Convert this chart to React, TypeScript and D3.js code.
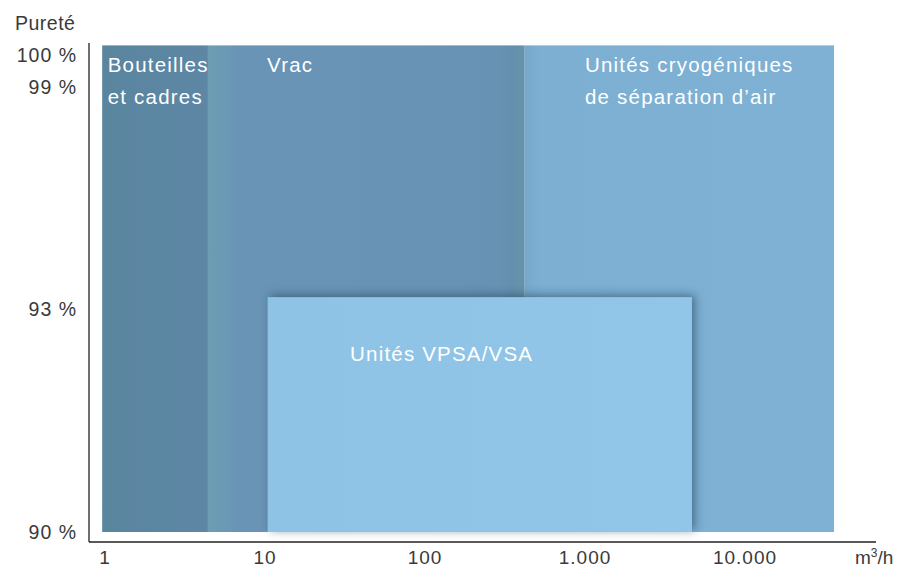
import React, { useEffect, useRef } from 'react';
import * as d3 from 'd3';

// regions (flow in m3/h, purity in %)
const regionNames = ['Bouteilles et cadres', 'Vrac', 'Unités cryogéniques de séparation d’air', 'Unités VPSA/VSA'];
const regionLines = [['Bouteilles', 'et cadres'], ['Vrac'], ['Unités cryogéniques', 'de séparation d’air'], ['Unités VPSA/VSA']];
const flowMin = [0.96, 4.4, 420, 10.4];
const flowMax = [4.4, 420, 36000, 4660];
const purityMin = [90, 90, 90, 90];
const purityMax = [100.3, 100.3, 100.3, 93.32];
const labelFlow = [1.04, 10.3, 1000, 34];
const labelPurity = [99.7, 99.7, 99.7, 92.4];

const xTicks = [1, 10, 100, 1000, 10000];
const xTickLabels = ['1', '10', '100', '1.000', '10.000'];
const yTicks = [90, 93, 99, 100];
const yTickLabels = ['90 %', '93 %', '99 %', '100 %'];

export default function App() {
    const ref = useRef<SVGSVGElement | null>(null);

    useEffect(() => {
        if (!ref.current) return;
        const svg = d3.select(ref.current);
        svg.selectAll('*').remove();

        const x = d3.scaleLog().domain([1, 10000]).range([105, 745]);
        // purity axis is not linear in the original: piecewise
        const y = d3.scaleLinear().domain([90, 93, 99, 100]).range([532, 309, 87, 55]);

        const defs = svg.append('defs');
        const shadow = defs.append('filter').attr('id', 'shadow')
            .attr('x', '-10%').attr('y', '-15%').attr('width', '120%').attr('height', '125%');
        shadow.append('feDropShadow')
            .attr('dx', 3).attr('dy', -2).attr('stdDeviation', 5)
            .attr('flood-color', '#284259').attr('flood-opacity', 0.6);

        const grads = [
            [['0%', '#5a859f'], ['100%', '#5d87a4']],
            [['0%', '#6b9db3'], ['6%', '#6a99b5'], ['9%', '#6994b6'], ['92%', '#6792b3'], ['96%', '#658fae'], ['100%', '#6693ab']],
            [['0%', '#76a8ca'], ['5%', '#7cafd2'], ['100%', '#7eb1d4']],
            [['0%', '#8ec3e6'], ['100%', '#92c6e9']]
        ];
        grads.forEach((stops, i) => {
            const g = defs.append('linearGradient').attr('id', `g${i}`)
                .attr('x1', '0%').attr('x2', '100%').attr('y1', '0%').attr('y2', '0%');
            stops.forEach(s => g.append('stop').attr('offset', s[0]).attr('stop-color', s[1]));
        });

        // regions
        regionNames.forEach((name, i) => {
            svg.append('rect')
                .attr('x', x(flowMin[i]))
                .attr('y', y(purityMax[i]))
                .attr('width', x(flowMax[i]) - x(flowMin[i]))
                .attr('height', y(purityMin[i]) - y(purityMax[i]))
                .attr('fill', `url(#g${i})`)
                .attr('filter', i === 3 ? 'url(#shadow)' : null)
                .append('title').text(name);
        });

        const font = '"Liberation Sans", Arial, sans-serif';

        // region labels
        regionLines.forEach((lines, i) => {
            const t = svg.append('text')
                .attr('x', x(labelFlow[i]))
                .attr('y', y(labelPurity[i]) + 7)
                .attr('fill', '#ffffff')
                .style('font-family', font)
                .style('font-size', '20.5px')
                .style('letter-spacing', '1.2px');
            lines.forEach((l, j) => {
                t.append('tspan').attr('x', x(labelFlow[i])).attr('dy', j === 0 ? 0 : 32).text(l);
            });
        });

        // axes lines
        svg.append('line').attr('x1', 89).attr('x2', 89).attr('y1', 43).attr('y2', 542)
            .attr('stroke', '#222').attr('stroke-width', 1.3);
        svg.append('line').attr('x1', 89).attr('x2', 876).attr('y1', 542).attr('y2', 542)
            .attr('stroke', '#222').attr('stroke-width', 1.3);

        svg.selectAll('.xt').data(xTicks).enter().append('text')
            .attr('class', 'xt')
            .attr('x', d => x(d))
            .attr('y', 564)
            .attr('text-anchor', 'middle')
            .attr('fill', '#3a3a3a')
            .style('font-family', font)
            .style('font-size', '19px')
            .style('letter-spacing', '1px')
            .text((d, i) => xTickLabels[i]);

        svg.selectAll('.yt').data(yTicks).enter().append('text')
            .attr('class', 'yt')
            .attr('x', 77)
            .attr('y', d => y(d) + 7)
            .attr('text-anchor', 'end')
            .attr('fill', '#3a3a3a')
            .style('font-family', font)
            .style('font-size', '19.5px')
            .style('letter-spacing', '1px')
            .text((d, i) => yTickLabels[i]);

        svg.append('text')
            .attr('x', 15).attr('y', 30)
            .attr('fill', '#3a3a3a')
            .style('font-family', font)
            .style('font-size', '19.5px')
            .style('letter-spacing', '0.5px')
            .text('Pureté');

        const unit = svg.append('text')
            .attr('x', 855).attr('y', 564)
            .attr('fill', '#3a3a3a')
            .style('font-family', font)
            .style('font-size', '19px');
        unit.append('tspan').text('m');
        unit.append('tspan').attr('dy', -7).style('font-size', '12px').text('3');
        unit.append('tspan').attr('dy', 7).text('/h');
    }, []);

    return (
        <svg ref={ref} width={904} height={569}
            style={{ position: 'absolute', left: 0, top: 0, background: '#fff' }} />
    );
}
